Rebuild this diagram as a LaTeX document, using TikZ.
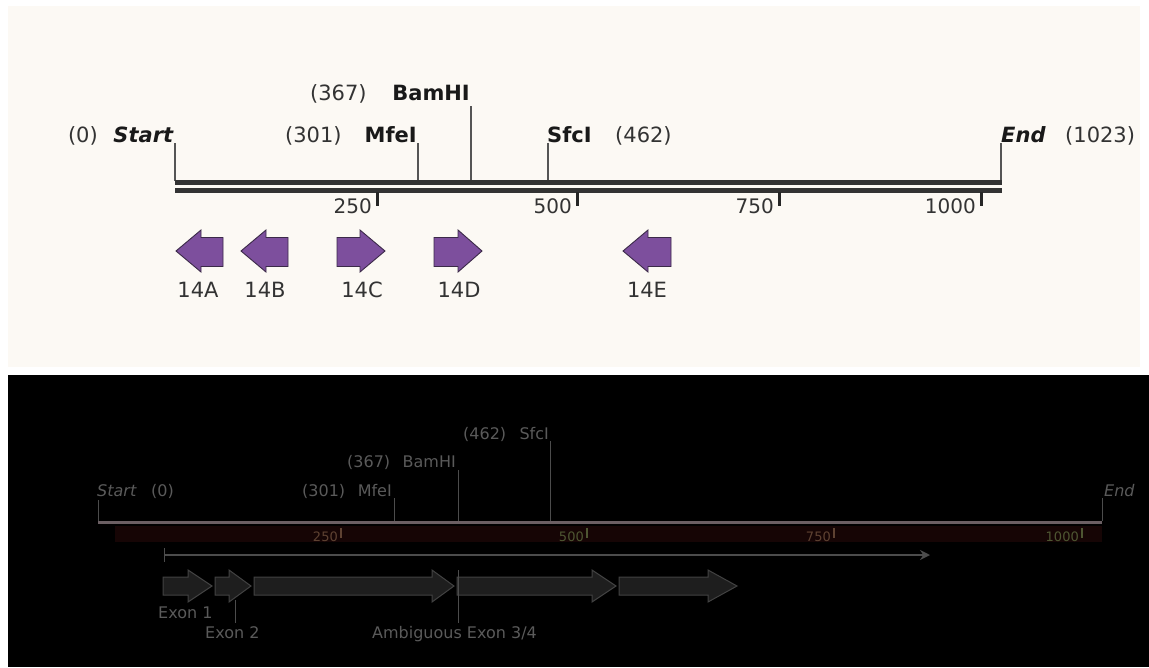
\documentclass[tikz,border=0pt]{standalone}
\usepackage{fontspec}
\setmainfont{DejaVu Sans}
\usetikzlibrary{arrows.meta}
\definecolor{cream}{HTML}{FCF9F4}
\definecolor{pfill}{HTML}{7D4F9D}
\definecolor{pline}{HTML}{3B2A48}
\definecolor{dk}{HTML}{333333}
\definecolor{tick}{HTML}{555555}
\definecolor{faint}{HTML}{5A5A5A}
\definecolor{fline}{HTML}{4C4C4C}
\definecolor{maroon}{HTML}{160505}
\definecolor{axisline}{HTML}{6B5F63}
\definecolor{scA}{HTML}{5E4232}
\definecolor{scB}{HTML}{4E5632}
\definecolor{exfill}{HTML}{1E1E1E}
\definecolor{exline}{HTML}{424242}
\newcommand\parrL[3]{\draw[parrow] (#1,251) -- (#2,230) -- (#2,237.5) -- (#3,237.5) -- (#3,266.5) -- (#2,266.5) -- (#2,272) -- cycle;}
\newcommand\parrR[3]{\draw[parrow] (#1,237.5) -- (#2,237.5) -- (#2,230) -- (#3,251) -- (#2,272) -- (#2,266.5) -- (#1,266.5) -- cycle;}
\newcommand\exarr[3]{\draw[exonbox] (#1,577) -- (#2,577) -- (#2,570) -- (#3,586) -- (#2,602) -- (#2,595) -- (#1,595) -- cycle;}
\begin{document}
\begin{tikzpicture}[x=1pt,y=-1pt,
  num/.style={inner sep=0, font=\fontsize{21}{21}\selectfont, text=dk},
  nm/.style={inner sep=0, font=\fontsize{21}{21}\selectfont\bfseries, text=black!90},
  scl/.style={inner sep=0, font=\fontsize{20}{20}\selectfont, text=dk},
  plab/.style={inner sep=0, font=\fontsize{21}{21}\selectfont, text=dk, anchor=base},
  ticklink/.style={draw=tick, line width=1.2pt},
  mainbar/.style={draw=dk, line width=5pt},
  sctick/.style={draw=black!85, line width=3pt},
  parrow/.style={fill=pfill, draw=pline, line width=0.9pt, line join=miter},
  ftxt/.style={inner sep=0, font=\fontsize{16}{16}\selectfont, text=faint},
  fsc/.style={inner sep=0, font=\fontsize{13}{13}\selectfont},
  flink/.style={draw=fline, line width=1pt},
  exonbox/.style={fill=exfill, draw=exline, line width=1pt},
]
\fill[white] (0,0) rectangle (1149,667);
\useasboundingbox (0,0) rectangle (1149,667);
\fill[cream] (8,6) rectangle (1140,367);
\fill[black] (8,375) rectangle (1149,667);

% ---------------- top panel ----------------
\node[num, anchor=base east] (n0) at (98,142) {(0)};
\node[nm, anchor=base east] (lStart) at (174,142) {\textit{Start}};
\node[num, anchor=base west] (n301) at (285,142) {(301)};
\node[nm, anchor=base east] (lMfe) at (417,142) {MfeI};
\node[num, anchor=base west] (n367) at (310,100) {(367)};
\node[nm, anchor=base east] (lBam) at (470,100) {BamHI};
\node[nm, anchor=base west] (lSfc) at (547,142) {SfcI};
\node[num, anchor=base west] (n462) at (615,142) {(462)};
\node[nm, anchor=base west] (lEnd) at (1001,142) {\textit{End}};
\node[num, anchor=base west] (n1023) at (1065,142) {(1023)};

\coordinate (sT) at (175,143); \coordinate (sB) at (175,181);
\coordinate (mT) at (418,143); \coordinate (mB) at (418,181);
\coordinate (bT) at (471,106); \coordinate (bB) at (471,181);
\coordinate (fT) at (548,143); \coordinate (fB) at (548,181);
\coordinate (eT) at (1001,143); \coordinate (eB) at (1001,181);
\draw[ticklink] (sT) -- (sB);
\draw[ticklink] (mT) -- (mB);
\draw[ticklink] (bT) -- (bB);
\draw[ticklink] (fT) -- (fB);
\draw[ticklink] (eT) -- (eB);

\coordinate (barL1) at (175,182.5); \coordinate (barR1) at (1001.5,182.5);
\coordinate (barL2) at (175,190); \coordinate (barR2) at (1001.5,190);
\draw[mainbar] (barL1) -- (barR1);
\draw[mainbar] (barL2) -- (barR2);

\coordinate (t250a) at (377,192); \coordinate (t250b) at (377,206);
\coordinate (t500a) at (577,192); \coordinate (t500b) at (577,206);
\coordinate (t750a) at (779,192); \coordinate (t750b) at (779,206);
\coordinate (t1000a) at (981,192); \coordinate (t1000b) at (981,206);
\draw[sctick] (t250a) -- (t250b);
\draw[sctick] (t500a) -- (t500b);
\draw[sctick] (t750a) -- (t750b);
\draw[sctick] (t1000a) -- (t1000b);
\node[scl, anchor=base east] (s250) at (372,213) {250};
\node[scl, anchor=base east] (s500) at (572,213) {500};
\node[scl, anchor=base east] (s750) at (774,213) {750};
\node[scl, anchor=base east] (s1000) at (976,213) {1000};

\parrL{176}{201}{223}
\parrL{241}{266}{288}
\parrR{337}{360}{385}
\parrR{434}{458}{482}
\parrL{623}{648}{671}
\node[plab] (p14A) at (198,297) {14A};
\node[plab] (p14B) at (265,297) {14B};
\node[plab] (p14C) at (362,297) {14C};
\node[plab] (p14D) at (459,297) {14D};
\node[plab] (p14E) at (647,297) {14E};

% ---------------- bottom panel ----------------
\fill[maroon] (115,526) rectangle (1102,542);
\coordinate (axL) at (98,522.5); \coordinate (axR) at (1102,522.5);
\draw[draw=axisline, line width=3pt] (axL) -- (axR);

\node[ftxt, anchor=base west] (dStart) at (97,496) {\textit{Start}};
\node[ftxt, anchor=base west] (d0) at (151,496) {(0)};
\node[ftxt, anchor=base west] (d301) at (302,496) {(301)};
\node[ftxt, anchor=base east] (dMfe) at (392,496) {MfeI};
\node[ftxt, anchor=base west] (d367) at (347,467) {(367)};
\node[ftxt, anchor=base east] (dBam) at (456,467) {BamHI};
\node[ftxt, anchor=base west] (d462) at (463,439) {(462)};
\node[ftxt, anchor=base east] (dSfc) at (549,439) {SfcI};
\node[ftxt, anchor=base west] (dEnd) at (1104,496) {\textit{End}};

\coordinate (dsT) at (98,500); \coordinate (dsB) at (98,521);
\coordinate (dmT) at (394,498); \coordinate (dmB) at (394,521);
\coordinate (dbT) at (458,470); \coordinate (dbB) at (458,521);
\coordinate (dfT) at (550,441); \coordinate (dfB) at (550,521);
\coordinate (deT) at (1102,498); \coordinate (deB) at (1102,521);
\draw[flink] (dsT) -- (dsB);
\draw[flink] (dmT) -- (dmB);
\draw[flink] (dbT) -- (dbB);
\draw[flink] (dfT) -- (dfB);
\draw[flink] (deT) -- (deB);

\coordinate (d250a) at (341,528); \coordinate (d250b) at (341,538);
\coordinate (d500a) at (587,528); \coordinate (d500b) at (587,538);
\coordinate (d750a) at (834,528); \coordinate (d750b) at (834,538);
\coordinate (d1000a) at (1082,528); \coordinate (d1000b) at (1082,538);
\draw[draw=scA, line width=1.2pt] (d250a) -- (d250b);
\draw[draw=scB, line width=1.2pt] (d500a) -- (d500b);
\draw[draw=scA, line width=1.2pt] (d750a) -- (d750b);
\draw[draw=scB, line width=1.2pt] (d1000a) -- (d1000b);
\node[fsc, text=scA, anchor=base east] (ds250) at (338,541) {250};
\node[fsc, text=scB, anchor=base east] (ds500) at (584,541) {500};
\node[fsc, text=scA, anchor=base east] (ds750) at (831,541) {750};
\node[fsc, text=scB, anchor=base east] (ds1000) at (1079,541) {1000};

\coordinate (gL) at (165,555); \coordinate (gR) at (930,555);
\draw[draw=fline, line width=2.5pt, -{Stealth[length=10pt,width=10pt]}] (gL) -- (gR);
\coordinate (gTa) at (164,548); \coordinate (gTb) at (164,562);
\draw[flink] (gTa) -- (gTb);

\exarr{163}{188}{212}
\exarr{215}{229}{251}
\exarr{254}{432}{454}
\exarr{457}{592}{616}
\exarr{619}{708}{737}

\node[ftxt, anchor=base west] (ex1) at (158,618) {Exon 1};
\node[ftxt, anchor=base west] (ex2) at (205,638) {Exon 2};
\node[ftxt, anchor=base west] (ex34) at (372,638) {Ambiguous Exon 3/4};
\coordinate (l2a) at (235,600); \coordinate (l2b) at (235,623);
\coordinate (l34a) at (458,570); \coordinate (l34b) at (458,623);
\draw[flink] (l2a) -- (l2b);
\draw[flink] (l34a) -- (l34b);
\end{tikzpicture}
\end{document}
